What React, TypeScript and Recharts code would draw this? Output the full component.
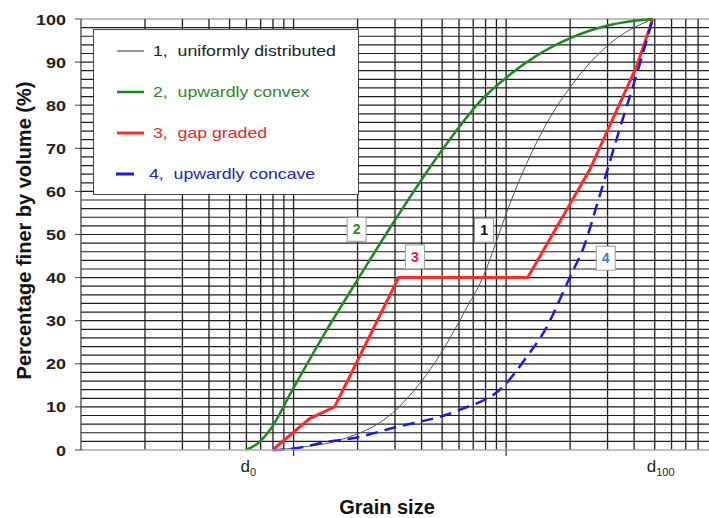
import React from 'react';
import { LineChart, Line, XAxis, YAxis, ReferenceLine, ReferenceDot, Legend, Label } from 'recharts';

const FONT = '"Liberation Sans", Arial, Helvetica, sans-serif';

// Grain sizes (log axis, arbitrary units) and percentage finer, per curve
const uniformSize = [7.96, 10.7, 16.5, 29.2, 47.1, 65.2, 79.2, 86.4, 103.9, 124.9, 160.2, 199, 266.7, 331, 489];
const uniformPct = [0, 0.6, 2.3, 8.6, 20.9, 33, 41, 46, 57, 66.5, 77, 84, 91.5, 95.5, 100];

const convexSize = [5.94, 6.77, 7.71, 9.89, 13.99, 20.01, 29.24, 54.2, 77.5, 100.6, 139.2, 199, 307, 489];
const convexPct = [0, 1.5, 4.5, 14, 27, 39.5, 52.5, 72, 81.5, 86.5, 91.5, 95.5, 98.6, 100];

const gapSize = [7.96, 11.9, 15.6, 31.2, 126.3, 247.2, 411, 489];
const gapPct = [0, 7.3, 10, 40, 40, 65, 89, 100];

const concaveSize = [7.96, 9.89, 14.77, 19.37, 29.2, 60.4, 96.3, 124.9, 155.1, 184.5, 203.3, 229, 275.4, 342, 424.9, 489];
const concavePct = [0, 0.3, 2, 2.8, 5.1, 9.3, 14.6, 21.6, 28.5, 36.4, 41.0, 46.4, 59, 74.5, 89.5, 100];

const seriesNames = ['1,  uniformly distributed', '2,  upwardly convex', '3,  gap graded', '4,  upwardly concave'];

// curve tag boxes
const tagText = ['2', '3', '1', '4'];
const tagSize = [19.8, 37.2, 78.7, 294];
const tagPct = [51.2, 44.8, 51.0, 44.5];
const tagColor = ['#2a8a2a', '#e8202a', '#111111', '#3a7cc8'];

// axes
const yTicks = [0, 10, 20, 30, 40, 50, 60, 70, 80, 90, 100];
const yGrid = Array.from({ length: 49 }, (_, i) => (i + 1) * 2);
const xGrid = [2, 3, 4, 5, 6, 7, 8, 9, 10, 20, 30, 40, 50, 60, 70, 80, 90, 100, 200, 300, 400, 500, 600, 700, 800];
const d0 = 6;
const d100 = 489;
const xTicks = [d0, 10, 100, d100];
const xDomain = [1, 900];

const zip = (s: number[], p: number[]) => s.map((v, i) => ({ size: v, pct: p[i] }));
const uniformData = zip(uniformSize, uniformPct);
const convexData = zip(convexSize, convexPct);
const gapData = zip(gapSize, gapPct);
const concaveData = zip(concaveSize, concavePct);

const YTick = (props: any) => {
  const { x, y, payload } = props;
  return (
    <g>
      <line x1={x - 6} x2={x} y1={y} y2={y} stroke="#444" strokeWidth={1} />
      <text
        transform={`translate(${x - 15},${y + 5.5}) scale(1.2,1)`}
        textAnchor="end"
        fontSize={15}
        fontWeight="bold"
        fill="#222"
        fontFamily={FONT}
      >
        {payload.value}
      </text>
    </g>
  );
};

const XTick = (props: any) => {
  const { x, y, payload } = props;
  const v = payload.value;
  if (v === 10 || v === 100) {
    return <line x1={x} x2={x} y1={y} y2={y + 6} stroke="#333" strokeWidth={1.2} />;
  }
  const sub = v === d0 ? '0' : '100';
  return (
    <text x={x - 6} y={y + 22} textAnchor="start" fontSize={17} fill="#222" fontFamily={FONT}>
      d<tspan fontSize={11} dy={4}>{sub}</tspan>
    </text>
  );
};

const legendStyles = [
  { color: '#555555', width: 1.3, text: '#222', x1: 23, x2: 50, tx: 59 },
  { color: '#1e8a1e', width: 2.5, text: '#2a8a2a', x1: 23, x2: 50, tx: 59 },
  { color: '#ff2a2a', width: 3, text: '#e02a2a', x1: 23, x2: 50, tx: 59 },
  { color: '#1a1ae6', width: 3, text: '#2020c8', x1: 22, x2: 40, tx: 55 },
];

const renderLegend = () => (
  <div
    style={{
      width: 266,
      height: 166,
      border: '1.5px solid #444',
      background: '#fff',
      boxSizing: 'border-box',
      position: 'relative',
      fontFamily: FONT,
    }}
  >
    {seriesNames.map((name, i) => {
      const s = legendStyles[i];
      const cy = 20.5 + i * 41.2;
      return (
        <React.Fragment key={name}>
          <svg style={{ position: 'absolute', left: 0, top: cy - 5 }} width={60} height={10}>
            <line x1={s.x1} x2={s.x2} y1={5} y2={5} stroke={s.color} strokeWidth={s.width} />
          </svg>
          <div
            style={{
              position: 'absolute',
              left: s.tx,
              top: cy - 9,
              fontSize: 14.5,
              lineHeight: '18px',
              color: s.text,
              whiteSpace: 'pre',
              transform: 'scaleX(1.22)',
              transformOrigin: 'left center',
            }}
          >
            {name}
          </div>
        </React.Fragment>
      );
    })}
  </div>
);

const TagShape = (i: number) => (props: any) => {
  const { cx, cy } = props;
  return (
    <g>
      <rect x={cx - 9.5} y={cy - 12} width={19} height={24} fill="#fff" stroke="#999" strokeWidth={1} />
      <text x={cx} y={cy + 5} textAnchor="middle" fontSize={14} fontWeight="bold" fill={tagColor[i]} fontFamily={FONT}>
        {tagText[i]}
      </text>
    </g>
  );
};

export default function App() {
  return (
    <div style={{ position: 'absolute', left: 0, top: 0, width: 709, height: 518, background: '#fff' }}>
      <LineChart width={709} height={518} margin={{ top: 19, right: 0, left: 0, bottom: 0 }}>
        <XAxis
          dataKey="size"
          type="number"
          scale="log"
          domain={xDomain}
          allowDataOverflow
          ticks={xTicks}
          interval={0}
          height={68}
          tickSize={0}
          tickMargin={0}
          tickLine={false}
          tick={<XTick />}
          axisLine={{ stroke: '#aaa', strokeWidth: 1.5 }}
        >
          <Label
            value="Grain size"
            position="insideBottom"
            offset={4}
            dx={-8}
            style={{ fontSize: 20, fontWeight: 'bold', fill: '#111', fontFamily: FONT }}
          />
        </XAxis>
        <YAxis
          type="number"
          domain={[0, 100]}
          ticks={yTicks}
          interval={0}
          width={81}
          tickSize={0}
          tickMargin={0}
          tickLine={false}
          tick={<YTick />}
          axisLine={{ stroke: '#333', strokeWidth: 1.2 }}
        >
          <Label
            value="Percentage finer by volume (%)"
            angle={-90}
            position="insideLeft"
            offset={24}
            dy={-4}
            style={{ fontSize: 20, fontWeight: 'bold', fill: '#111', fontFamily: FONT, textAnchor: 'middle' }}
          />
        </YAxis>

        {yGrid.map((v) => (
          <ReferenceLine key={'h' + v} y={v} stroke="#1e1e1e" strokeWidth={1.2} />
        ))}
        <ReferenceLine y={100} stroke="#aaa" strokeWidth={1.5} />
        {xGrid.map((v) => (
          <ReferenceLine key={'v' + v} x={v} stroke="#1e1e1e" strokeWidth={1.3} />
        ))}

        <Line data={uniformData} dataKey="pct" name={seriesNames[0]} type="monotone" stroke="#555" strokeWidth={1} dot={false} isAnimationActive={false} />
        <Line data={convexData} dataKey="pct" name={seriesNames[1]} type="monotone" stroke="#1e8a1e" strokeWidth={2.5} dot={false} isAnimationActive={false} />
        <Line data={gapData} dataKey="pct" name={seriesNames[2]} type="linear" stroke="#ff2a2a" strokeWidth={3} dot={false} isAnimationActive={false} />
        <Line data={concaveData} dataKey="pct" name={seriesNames[3]} type="monotone" stroke="#1a1ae6" strokeWidth={2.5} strokeDasharray="12 7" dot={false} isAnimationActive={false} />

        {tagText.map((t, i) => (
          <ReferenceDot key={'t' + t} x={tagSize[i]} y={tagPct[i]} r={0} ifOverflow="visible" shape={TagShape(i)} />
        ))}

        <Legend
          layout="vertical"
          align="center"
          verticalAlign="middle"
          content={renderLegend}
          wrapperStyle={{ position: 'absolute', left: 93, top: 29, width: 266, height: 166 }}
        />
      </LineChart>
    </div>
  );
}
